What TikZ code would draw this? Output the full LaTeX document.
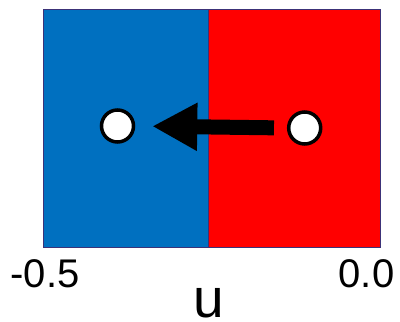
\documentclass[tikz,border=0pt]{standalone}
\usepackage{fontspec}
\setmainfont{Liberation Sans}
\usetikzlibrary{positioning, arrows.meta}
\definecolor{negblue}{HTML}{0070C0}
\definecolor{posred}{HTML}{FF0000}
\definecolor{edgeslate}{HTML}{3C3278}

\begin{document}
\begin{tikzpicture}[
    x=1pt, y=-1pt,
    region/.style={draw=edgeslate, line width=0.8pt},
    particle/.style={circle, draw=black, fill=white, line width=3.5pt,
        minimum size=32pt, inner sep=0pt},
    bigarrow/.style={-{Triangle[length=45pt, width=45pt]}, line width=15pt, color=black},
    tick/.style={font=\fontsize{40}{48}\selectfont, anchor=base, inner sep=0pt},
    axis/.style={font=\fontsize{55}{66}\selectfont, anchor=base, inner sep=0pt},
]
\useasboundingbox (0,0) rectangle (400,322);

% ── Regions ────────────────────────────────────────────────────────────────
\filldraw[region, fill=negblue] (43,9) rectangle (208,247);
\filldraw[region, fill=posred] (208,9) rectangle (380,247);

% ── Particles ─────────────────────────────────────────────────────────────
\node[particle] (left) at (117.5,126) {};
\node[particle] (right) at (304.7,128) {};

% ── Arrow ─────────────────────────────────────────────────────────────────
\draw[bigarrow, shorten <=13pt, shorten >=17pt] (right.west) -- (left.east);

% ── Axis labels ───────────────────────────────────────────────────────────
\node[tick] (umin) at (45,287.5) {-0.5};
\node[tick] (umax) at (366.5,287.5) {0.0};
\node[axis] (ulabel) at (208.3,317.5) {u};

\end{tikzpicture}
\end{document}
